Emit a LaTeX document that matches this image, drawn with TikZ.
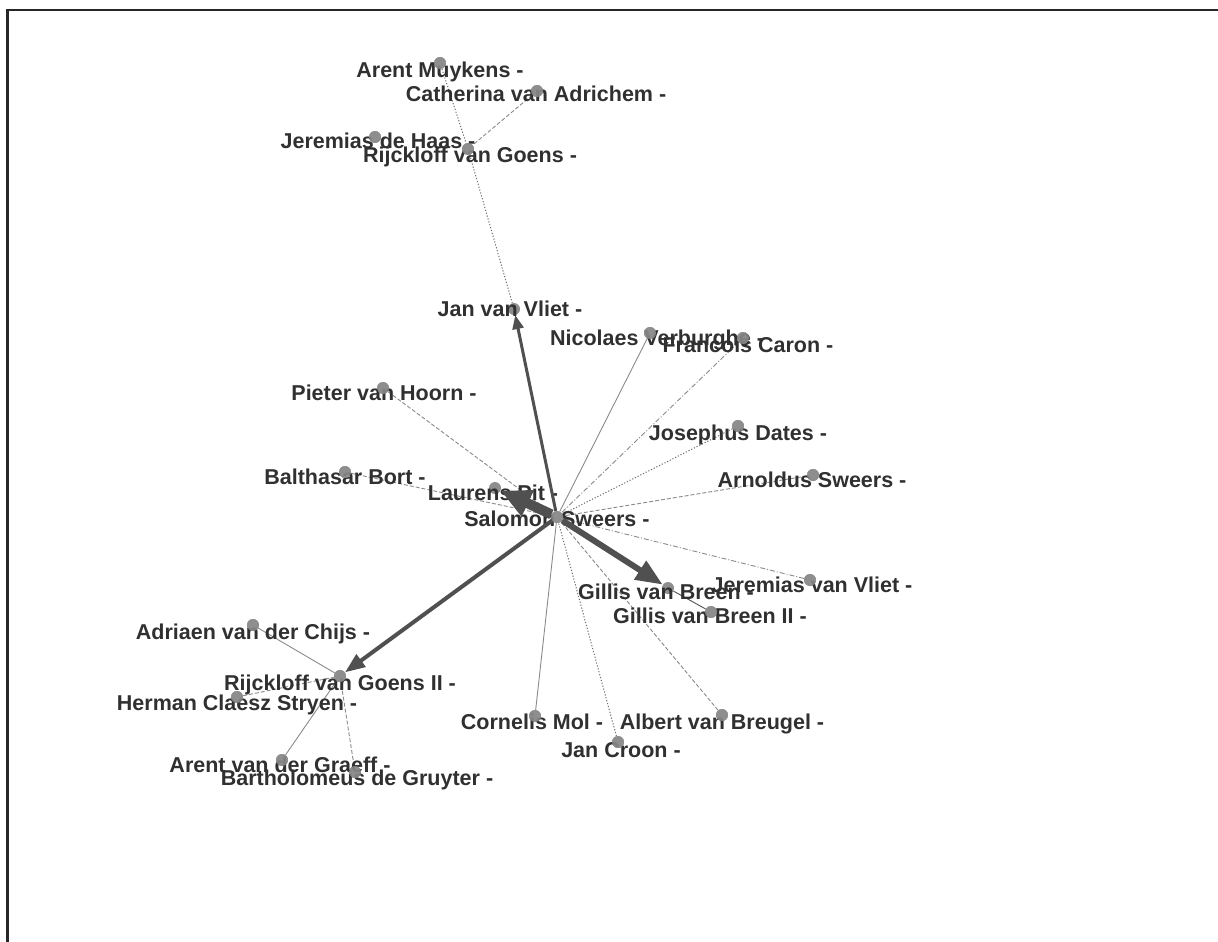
\documentclass[tikz,border=0pt]{standalone}
\usepackage{fontspec}
\setmainfont{Liberation Sans}
\usetikzlibrary{arrows.meta}
\definecolor{dotc}{HTML}{8E8E8E}
\definecolor{txtc}{HTML}{303030}
\definecolor{edgec}{HTML}{8A8A8A}
\definecolor{arrc}{HTML}{505050}
\definecolor{framec}{HTML}{262626}
\begin{document}
\begin{tikzpicture}[x=1pt,y=-1pt,
  dot/.style={circle,fill=dotc,draw=none,inner sep=0pt,minimum size=12pt},
  lab/.style={font=\bfseries\fontsize{21.5}{24}\selectfont,text=txtc,inner sep=0pt,text height=15.5pt,text depth=0pt},
  thinsolid/.style={draw=edgec,line width=0.9pt},
  thindash/.style={draw=edgec,line width=0.9pt,dash pattern=on 4pt off 2pt},
  thindot/.style={draw=edgec!80!black,line width=1pt,dash pattern=on 1.2pt off 1.8pt},
  thindashdot/.style={draw=edgec,line width=0.9pt,dash pattern=on 5pt off 2pt on 1pt off 2pt},
  thick arrow/.style={draw=arrc,fill=arrc}
]
\useasboundingbox (0,0) rectangle (1218,942);
\draw[framec,line width=2.2pt] (7.5,942) coordinate (fb) -- (7.5,10) coordinate (fc) -- (1218,10) coordinate (fr);

% dots (positions)
\node[dot] (am) at (440,63) {};
\node[dot] (ca) at (537,91) {};
\node[dot] (jh) at (375,137) {};
\node[dot] (rg) at (468,149) {};
\node[dot] (jv) at (514,309) {};
\node[dot] (nv) at (650,333) {};
\node[dot] (fc1) at (743,338) {};
\node[dot] (ph) at (383,388) {};
\node[dot] (jd) at (738,426) {};
\node[dot] (bb) at (345,472) {};
\node[dot] (as) at (813,475) {};
\node[dot] (lp) at (495,488) {};
\node[dot] (ss) at (557,517) {};
\node[dot] (gb) at (668,588) {};
\node[dot] (jvv) at (810,580) {};
\node[dot] (gb2) at (711,612) {};
\node[dot] (ac) at (253,625) {};
\node[dot] (rg2) at (340,676) {};
\node[dot] (hs) at (237,697) {};
\node[dot] (cm) at (535,716) {};
\node[dot] (ab) at (722,715) {};
\node[dot] (jc) at (618,742) {};
\node[dot] (ag) at (282,760) {};
\node[dot] (bg) at (355,772) {};

% thin edges
\draw[thindot] (am) -- (rg);
\draw[thindash] (ca) -- (rg);
\draw[thindot] (rg) -- (jv);
\draw[thindash] (ph) -- (ss);
\draw[thindash] (bb) -- (ss);
\draw[thinsolid] (nv) -- (ss);
\draw[thindashdot] (fc1) -- (ss);
\draw[thindot] (jd) -- (ss);
\draw[thindash] (as) -- (ss);
\draw[thindashdot] (jvv) -- (ss);
\draw[thinsolid,draw=arrc] (gb) -- (gb2);
\draw[thindash] (ab) -- (ss);
\draw[thindot] (jc) -- (ss);
\draw[thinsolid] (cm) -- (ss);
\draw[thinsolid] (ac) -- (rg2);
\draw[thindash] (hs) -- (rg2);
\draw[thinsolid] (ag) -- (rg2);
\draw[thindash] (bg) -- (rg2);

% labels
\node[lab] (lam) at (440,70) {Arent Muykens -};
\node[lab] (lca) at (536,94) {Catherina van Adrichem -};
\node[lab] (ljh) at (378,141) {Jeremias de Haas -};
\node[lab] (lrg) at (470,155) {Rijckloff van Goens -};
\node[lab] (ljv) at (510,309) {Jan van Vliet -};
\node[lab] (lnv) at (657,338) {Nicolaes Verburghe -};
\node[lab] (lfc) at (748,345) {Francois Caron -};
\node[lab] (lph) at (384,393) {Pieter van Hoorn -};
\node[lab] (ljd) at (738,433) {Josephus Dates -};
\node[lab] (lbb) at (345,477) {Balthasar Bort -};
\node[lab] (las) at (812,480) {Arnoldus Sweers -};
\node[lab] (llp) at (493,493) {Laurens Pit -};
\node[lab] (lss) at (557,519) {Salomon Sweers -};
\node[lab] (lgb) at (666,592) {Gillis van Breen -};
\node[lab] (ljvv) at (812,585) {Jeremias van Vliet -};
\node[lab] (lgb2) at (710,616) {Gillis van Breen II -};
\node[lab] (lac) at (253,632) {Adriaen van der Chijs -};
\node[lab] (lrg2) at (340,683) {Rijckloff van Goens II -};
\node[lab] (lhs) at (237,703) {Herman Claesz Stryen -};
\node[lab] (lcm) at (532,722) {Cornelis Mol -};
\node[lab] (lab1) at (722,722) {Albert van Breugel -};
\node[lab] (ljc) at (621,750) {Jan Croon -};
\node[lab] (lag) at (280,765) {Arent van der Graeff -};
\node[lab] (lbg) at (357,778) {Bartholomeus de Gruyter -};

% thick arrows
\draw[thick arrow,line width=3pt,-{Triangle[length=14pt,width=11pt]}] (ss) -- (jv);
\draw[thick arrow,line width=4pt,-{Triangle[length=20pt,width=15pt]}] (ss) -- (rg2);
\draw[thick arrow,line width=6pt,-{Triangle[length=27pt,width=21pt]}] (ss) -- (gb);
\draw[thick arrow,line width=10pt,-{Triangle[length=30pt,width=27pt]}] (ss) -- (lp);

% dots on top
\foreach \n in {am,ca,jh,rg,nv,fc1,ph,jd,bb,as,ss,jvv,gb2,ac,rg2,hs,cm,ab,jc,ag,bg}
  \fill[dotc,opacity=0.85] (\n) circle (6pt);
\end{tikzpicture}
\end{document}
